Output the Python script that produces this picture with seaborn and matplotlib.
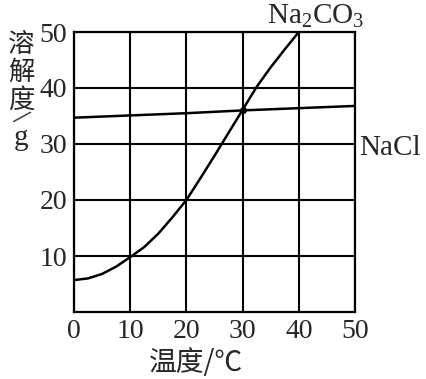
import matplotlib
matplotlib.use("Agg")
import matplotlib.pyplot as plt
import seaborn as sns
import pandas as pd

# data
na2co3_temp = [0, 2.5, 5, 7.5, 10, 12.5, 15, 17.5, 20, 22.5, 25, 27.5, 30, 32.5, 35, 37.5, 40]
na2co3_sol = [5.7, 6.0, 6.8, 8.1, 9.8, 11.6, 14.0, 16.9, 20.0, 23.9, 27.9, 32.0, 36.1, 40.2, 43.7, 46.9, 50.0]
nacl_temp = [0, 10, 20, 30, 40, 50]
nacl_sol = [34.7, 35.1, 35.5, 36.0, 36.4, 36.8]
x_ticks = [0, 10, 20, 30, 40, 50]
y_ticks = [10, 20, 30, 40, 50]
ylabel_chars = ["溶", "解", "度"]

sns.set_style("white")
plt.rcParams['font.family'] = ['Liberation Serif', 'Noto Sans CJK SC', 'DejaVu Sans']
plt.rcParams['mathtext.fontset'] = 'custom'
plt.rcParams['mathtext.rm'] = 'Liberation Serif'
plt.rcParams['mathtext.it'] = 'Liberation Serif'

fig = plt.figure(figsize=(4.27, 3.79), dpi=100)
ax = fig.add_axes([74/427, 1-312/379, (355-74)/427, (312-32)/379])

df1 = pd.DataFrame({"t": na2co3_temp, "s": na2co3_sol})
df2 = pd.DataFrame({"t": nacl_temp, "s": nacl_sol})

sns.lineplot(data=df1, x="t", y="s", ax=ax, color="black", lw=1.8, zorder=3)
sns.lineplot(data=df2, x="t", y="s", ax=ax, color="black", lw=1.8, zorder=3)
ax.plot([30], [36.0], 'o', color='black', ms=4, zorder=4)

ax.set_xlim(0, 50)
ax.set_ylim(0, 50)
ax.set_xticks(x_ticks)
ax.set_yticks(y_ticks)
ax.set_xticklabels([str(v) for v in x_ticks], fontsize=20)
ax.set_yticklabels([str(v) for v in y_ticks], fontsize=20)
ax.tick_params(length=0, pad=5)
ax.grid(True, color='black', lw=1.5)
for s in ax.spines.values():
    s.set_color('black')
    s.set_linewidth(1.6)
ax.set_xlabel("")
ax.set_ylabel("")

# y label (vertical stacked)
ys = [44, 72, 100]
for ch, yp in zip(ylabel_chars, ys):
    fig.text(21/427, 1-yp/379, ch, ha='center', va='center', fontsize=19,
             family=['Noto Sans CJK SC'])
fig.text(20/427, 1-119/379, "/", ha='center', va='center', fontsize=21, rotation=-42)
fig.text(21/427, 1-138/379, "g", ha='center', va='center', fontsize=21)

# x label
fig.text(196/427, 1-363/379, "温度/℃", ha='center', va='center', fontsize=20,
         family=['Noto Sans CJK SC', 'DejaVu Sans'])

# curve labels
fig.text(316/427, 1-16/379, r"Na$_2$CO$_3$", ha='center', va='center', fontsize=21)
fig.text(390/427, 1-148/379, "NaCl", ha='center', va='center', fontsize=21)

fig.savefig("out.png", dpi=100)
